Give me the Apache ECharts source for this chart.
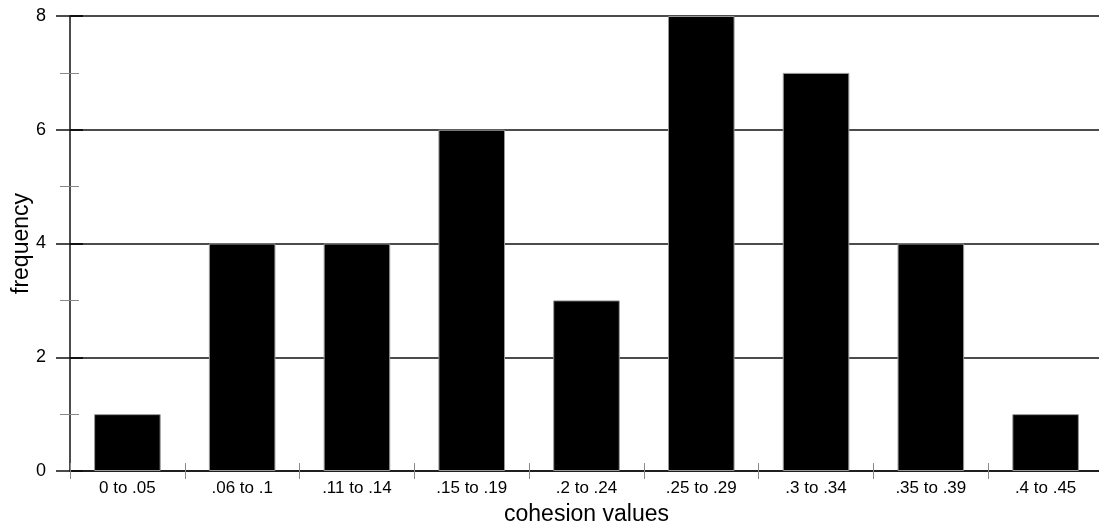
<!DOCTYPE html>
<html>
<head>
<meta charset="utf-8">
<script src="https://cdn.jsdelivr.net/npm/echarts@6/dist/echarts.min.js"></script>
<style>
  html, body { margin: 0; padding: 0; background: #fff; }
  #chart { width: 1099px; height: 529px; }
</style>
</head>
<body>
<div id="chart"></div>
<script>
const categories = [
  "0 to .05", ".06 to .1", ".11 to .14", ".15 to .19", ".2 to .24",
  ".25 to .29", ".3 to .34", ".35 to .39", ".4 to .45"
];
const frequency = [1, 4, 4, 6, 3, 8, 7, 4, 1];

const font = "Liberation Sans, Arial, sans-serif";

const chart = echarts.init(document.getElementById("chart"));

chart.setOption({
  animation: false,
  grid: { left: 70, width: 1033, top: 16, bottom: 58, outerBoundsMode: "none", containLabel: false },
  xAxis: [
    {
      type: "category",
      data: categories,
      name: "cohesion values",
      nameLocation: "middle",
      nameGap: 32,
      nameMoveOverlap: false,
      nameTextStyle: { fontFamily: font, fontSize: 23, color: "#000" },
      axisLine: { lineStyle: { color: "#111", width: 1.5 } },
      axisTick: { show: true, length: 8, lineStyle: { color: "#888", width: 1 } },
      axisLabel: { fontFamily: font, fontSize: 17, color: "#000", margin: 9, interval: 0 }
    },
    {
      type: "category",
      data: categories,
      position: "bottom",
      axisLine: { show: false },
      axisTick: { show: true, inside: true, length: 8, lineStyle: { color: "#888", width: 1 } },
      axisLabel: { show: false }
    }
  ],
  yAxis: [
    {
      type: "value",
      min: 0,
      max: 8,
      interval: 2,
      name: "frequency",
      nameLocation: "middle",
      nameGap: 37,
      nameMoveOverlap: false,
      nameTextStyle: { fontFamily: font, fontSize: 23, color: "#000" },
      axisLine: { show: true, lineStyle: { color: "#111", width: 1.5 } },
      axisTick: { show: true, length: 14, lineStyle: { color: "#111", width: 1.5 } },
      minorTick: { show: true, splitNumber: 2, length: 10, lineStyle: { color: "#888", width: 1 } },
      axisLabel: { fontFamily: font, fontSize: 18, color: "#000", margin: 24 },
      splitLine: { show: true, lineStyle: { color: "#111", width: 1.5 } }
    },
    {
      type: "value",
      min: 0,
      max: 8,
      interval: 2,
      position: "left",
      axisLine: { show: false },
      axisTick: { show: true, inside: true, length: 13, lineStyle: { color: "#111", width: 2 } },
      minorTick: { show: true, splitNumber: 2, length: 9, lineStyle: { color: "#888", width: 1 } },
      axisLabel: { show: false },
      splitLine: { show: false }
    }
  ],
  series: [
    {
      type: "bar",
      data: frequency,
      xAxisIndex: 0,
      yAxisIndex: 0,
      barWidth: "58%",
      itemStyle: { color: "#000", borderColor: "#999", borderWidth: 1 }
    }
  ]
});
</script>
</body>
</html>
